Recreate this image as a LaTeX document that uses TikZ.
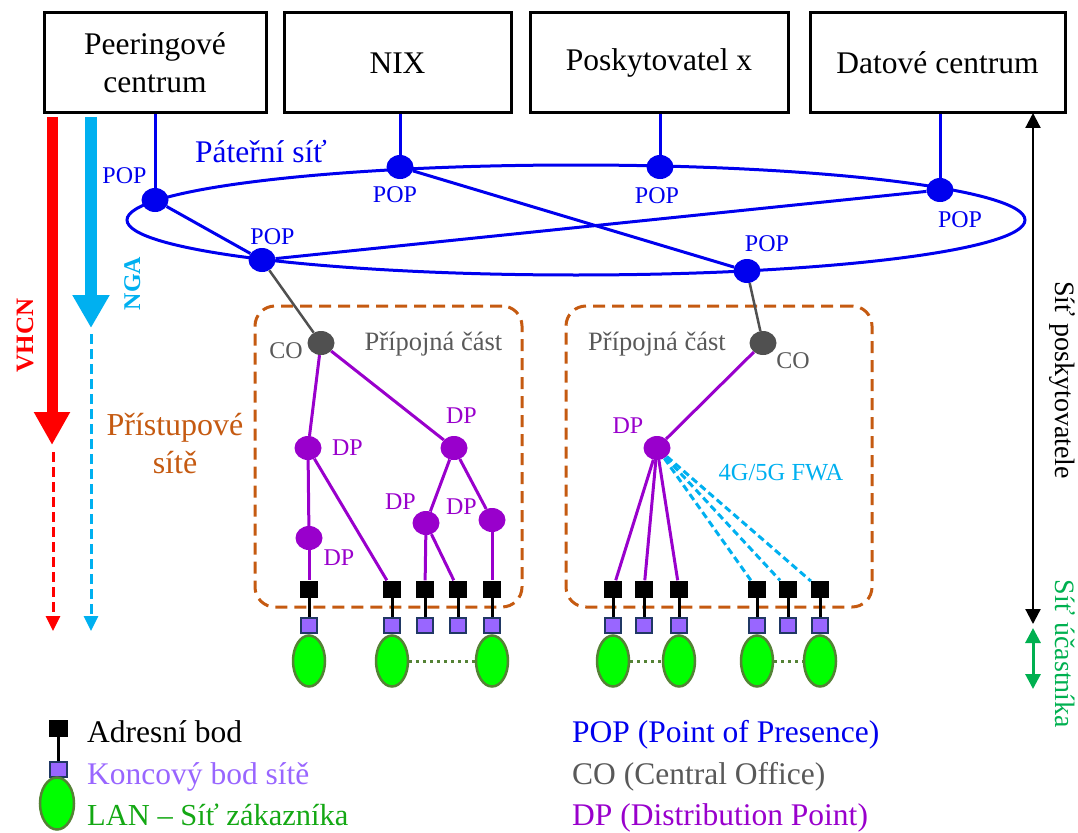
\documentclass[tikz,border=0pt]{standalone}
\usepackage{fontspec}
\setmainfont{Liberation Serif}
\usetikzlibrary{arrows.meta,shapes.geometric}
\definecolor{popblue}{RGB}{0,0,238}
\definecolor{cogray}{RGB}{80,80,80}
\definecolor{cotext}{RGB}{89,89,89}
\definecolor{dppurple}{RGB}{153,0,204}
\definecolor{accorange}{RGB}{197,90,17}
\definecolor{fwacyan}{RGB}{0,176,240}
\definecolor{lanfill}{RGB}{0,255,0}
\definecolor{lanborder}{RGB}{84,130,53}
\definecolor{epfill}{RGB}{153,102,255}
\definecolor{epborder}{RGB}{32,56,100}
\definecolor{subgreen}{RGB}{0,176,80}
\definecolor{leggreen}{RGB}{20,168,20}
\definecolor{vred}{RGB}{255,0,0}
\begin{document}
\begin{tikzpicture}[x=1pt,y=-1pt,
  topbox/.style={draw=black, line width=3pt, inner sep=0pt, align=center, font=\fontsize{31.5}{38}\selectfont},
  popnode/.style={ellipse, fill=popblue, minimum width=27pt, minimum height=24pt, inner sep=0pt},
  conode/.style={ellipse, fill=cogray, minimum width=27pt, minimum height=24pt, inner sep=0pt},
  dpnode/.style={ellipse, fill=dppurple, minimum width=27pt, minimum height=24pt, inner sep=0pt},
  apt/.style={rectangle, fill=black, minimum width=18pt, minimum height=17pt, inner sep=0pt},
  ept/.style={rectangle, fill=epfill, draw=epborder, line width=2pt, minimum width=16pt, minimum height=15pt, inner sep=0pt},
  lan/.style={ellipse, fill=lanfill, draw=lanborder, line width=2.5pt, minimum width=32pt, minimum height=51pt, inner sep=0pt},
  accbox/.style={draw=accorange, line width=3pt, dash pattern=on 12pt off 7pt, rounded corners=20pt, inner sep=0pt},
  bbline/.style={draw=popblue, line width=3pt},
  grayline/.style={draw=cogray, line width=2.5pt},
  dpline/.style={draw=dppurple, line width=3pt},
  fwaline/.style={draw=fwacyan, line width=3pt, dash pattern=on 7pt off 4pt},
  addrline/.style={draw=black, line width=3pt},
  lanlink/.style={draw=lanborder, line width=3pt, dash pattern=on 3pt off 4pt},
  poplbl/.style={text=popblue, anchor=base, inner sep=0pt, font=\fontsize{24}{28}\selectfont},
  colbl/.style={text=cotext, anchor=base, inner sep=0pt, font=\fontsize{24}{28}\selectfont},
  dplbl/.style={text=dppurple, anchor=base, inner sep=0pt, font=\fontsize{24}{28}\selectfont},
  subtxt/.style={text=cotext, anchor=base, inner sep=0pt, font=\fontsize{26.5}{30}\selectfont},
  legtxt/.style={anchor=base west, inner sep=0pt, font=\fontsize{31.5}{38}\selectfont},
  sidetxt/.style={anchor=base, inner sep=0pt, font=\fontsize{28}{32}\selectfont},
]
\useasboundingbox (0,0) rectangle (1078,832);

% top boxes
\node[topbox, minimum width=222pt, minimum height=100pt] (b1) at (155,63) {Peeringové\\centrum};
\node[topbox, minimum width=227pt, minimum height=100pt] (b2) at (397.5,63) {NIX};
\node[topbox, minimum width=258pt, minimum height=100pt] (b3) at (659,63) {Poskytovatel x};
\node[topbox, minimum width=255pt, minimum height=100pt] (b4) at (937.5,63) {Datové centrum};

% backbone ring
\draw[bbline] (576,220) ellipse [x radius=449pt, y radius=55pt];

% POP nodes
\node[popnode] (p1) at (155,200) {};
\node[popnode] (p2) at (262,260) {};
\node[popnode] (p3) at (400,167) {};
\node[popnode] (p4) at (660,167) {};
\node[popnode] (p5) at (940,190) {};
\node[popnode] (p6) at (747,271) {};

\node[poplbl] (p1l) at (124.5,183) {POP};
\node[poplbl] (p2l) at (272.5,244) {POP};
\node[poplbl] (p3l) at (395,202) {POP};
\node[poplbl] (p4l) at (657,203) {POP};
\node[poplbl] (p5l) at (960,227) {POP};
\node[poplbl] (p6l) at (767,251) {POP};
\node[anchor=base, inner sep=0pt, text=popblue, font=\fontsize{31.5}{38}\selectfont] (ptl) at (261,162) {Páteřní síť};

\draw[bbline] (p1) -- (p1 |- b1.south);
\draw[bbline] (p3) -- (p3 |- b2.south);
\draw[bbline] (p4) -- (p4 |- b3.south);
\draw[bbline] (p5) -- (p5 |- b4.south);
\draw[bbline] (p1) -- (p2);
\draw[bbline] (p2) -- (p5);
\draw[bbline] (p3) -- (p6);

% access boxes
\node[accbox, minimum width=267pt, minimum height=301pt] (acc1) at (388.5,456.5) {};
\node[accbox, minimum width=306pt, minimum height=301pt] (acc2) at (719,456.5) {};
\node[subtxt] (pc1) at (433.5,350) {Přípojná část};
\node[subtxt] (pc2) at (657,350) {Přípojná část};

% CO
\node[conode] (co1) at (321,343) {};
\node[conode] (co2) at (763,343) {};
\node[colbl] (co1l) at (286,358) {CO};
\node[colbl] (co2l) at (793,368) {CO};
\draw[grayline] (p2) -- (co1);
\draw[grayline] (p6) -- (co2);

% DP
\node[dpnode] (dp1) at (308,448) {};
\node[dpnode] (dp2) at (454,448) {};
\node[dpnode] (dp3) at (309,538) {};
\node[dpnode] (dp4) at (426,523) {};
\node[dpnode] (dp5) at (492,520) {};
\node[dpnode] (dp6) at (657,448) {};
\node[dplbl] (dp1l) at (347.5,455) {DP};
\node[dplbl] (dp2l) at (461.5,423) {DP};
\node[dplbl] (dp3l) at (339,565) {DP};
\node[dplbl] (dp4l) at (400.5,509) {DP};
\node[dplbl] (dp5l) at (461.5,514) {DP};
\node[dplbl] (dp6l) at (628,433) {DP};
\node[anchor=base, inner sep=0pt, text=fwacyan, font=\fontsize{24.5}{28}\selectfont] (fwal) at (781,480) {4G/5G FWA};

% address points, endpoints
\foreach \n/\x in {1/309,2/392,3/425,4/458,5/492,6/613,7/644,8/679,9/757,10/788,11/820}{
  \node[apt] (a\n) at (\x,589) {};
  \node[ept] (e\n) at (\x,625) {};
  \draw[addrline] (a\n) -- (e\n);
}

% LANs
\node[lan] (l1) at (309,661) {};
\node[lan] (l2) at (392,661) {};
\node[lan] (l3) at (492,661) {};
\node[lan] (l4) at (613,661) {};
\node[lan] (l5) at (679,661) {};
\node[lan] (l6) at (757,661) {};
\node[lan] (l7) at (820,661) {};
\draw[lanlink] (l2) -- (l3);
\draw[lanlink] (l4) -- (l5);
\draw[lanlink] (l6) -- (l7);

% tree edges
\draw[dpline] (co1) -- (dp1);
\draw[dpline] (co1) -- (dp2);
\draw[dpline] (dp1) -- (dp3);
\draw[dpline] (dp1) -- (a2);
\draw[dpline] (dp3) -- (a1);
\draw[dpline] (dp2) -- (dp4);
\draw[dpline] (dp2) -- (dp5);
\draw[dpline] (dp4) -- (a3);
\draw[dpline] (dp4) -- (a4);
\draw[dpline] (dp5) -- (a5);
\draw[dpline] (co2) -- (dp6);
\draw[dpline] (dp6) -- (a6);
\draw[dpline] (dp6) -- (a7);
\draw[dpline] (dp6) -- (a8);
\draw[fwaline] (dp6) -- (a9);
\draw[fwaline] (dp6) -- (a10);
\draw[fwaline] (dp6) -- (a11);

% left arrows
\coordinate (vh0) at (52,117);
\coordinate (vh1) at (52,445);
\coordinate (vh2) at (53,452);
\coordinate (vh3) at (53,631);
\coordinate (ng0) at (91,117);
\coordinate (ng1) at (91,328);
\coordinate (ng2) at (91,334);
\coordinate (ng3) at (91,631);
\draw[vred, line width=11pt, -{Triangle[width=34pt,length=33pt]}] (vh0) -- (vh1);
\draw[vred, line width=3pt, dash pattern=on 10pt off 5pt, -{Triangle[width=14pt,length=15pt]}] (vh2) -- (vh3);
\draw[fwacyan, line width=12pt, -{Triangle[width=35pt,length=33pt]}] (ng0) -- (ng1);
\draw[fwacyan, line width=3pt, dash pattern=on 10pt off 5pt, -{Triangle[width=14pt,length=15pt]}] (ng2) -- (ng3);
\node[anchor=base, rotate=90, inner sep=0pt, text=vred, font=\fontsize{25}{30}\selectfont\bfseries] (vhl) at (33,335.5) {VHCN};
\node[anchor=base, rotate=90, inner sep=0pt, text=fwacyan, font=\fontsize{24}{29}\selectfont\bfseries] (ngl) at (140,283.5) {NGA};
\node[anchor=base, inner sep=0pt, text=accorange, font=\fontsize{32}{38}\selectfont] (ps1) at (175,435) {Přístupové};
\node[anchor=base, inner sep=0pt, text=accorange, font=\fontsize{32}{38}\selectfont] (ps2) at (175,473) {sítě};

% right arrows
\coordinate (sp0) at (1033,113);
\coordinate (sp1) at (1033,624);
\coordinate (su0) at (1033,628);
\coordinate (su1) at (1033,689);
\draw[black, line width=2.2pt, {Triangle[width=15pt,length=15pt]}-{Triangle[width=15pt,length=15pt]}] (sp0) -- (sp1);
\draw[subgreen, line width=3pt, {Triangle[width=15pt,length=15pt]}-{Triangle[width=15pt,length=15pt]}] (su0) -- (su1);
\node[sidetxt, rotate=-90, text=black] (spl) at (1055,380) {Síť poskytovatele};
\node[sidetxt, rotate=-90, text=subgreen] (sul) at (1055,654) {Síť účastníka};

% legend
\node[apt, minimum width=19pt, minimum height=17pt] (la) at (58.5,728.5) {};
\node[ept, minimum width=17pt, minimum height=15pt] (le) at (58.5,769) {};
\draw[addrline] (la) -- (le);
\node[lan, minimum width=34pt, minimum height=52pt] (ll) at (57,803.5) {};
\node[legtxt, text=black] (lt1) at (87,742) {Adresní bod};
\node[legtxt, text=epfill] (lt2) at (87,784) {Koncový bod sítě};
\node[legtxt, text=leggreen, font=\fontsize{30.5}{36}\selectfont] (lt3) at (87,825) {LAN – Síť zákazníka};
\node[legtxt, text=popblue] (lt4) at (572,742) {POP (Point of Presence)};
\node[legtxt, text=cotext] (lt5) at (572,784) {CO (Central Office)};
\node[legtxt, text=dppurple] (lt6) at (572,825) {DP (Distribution Point)};
\end{tikzpicture}
\end{document}
